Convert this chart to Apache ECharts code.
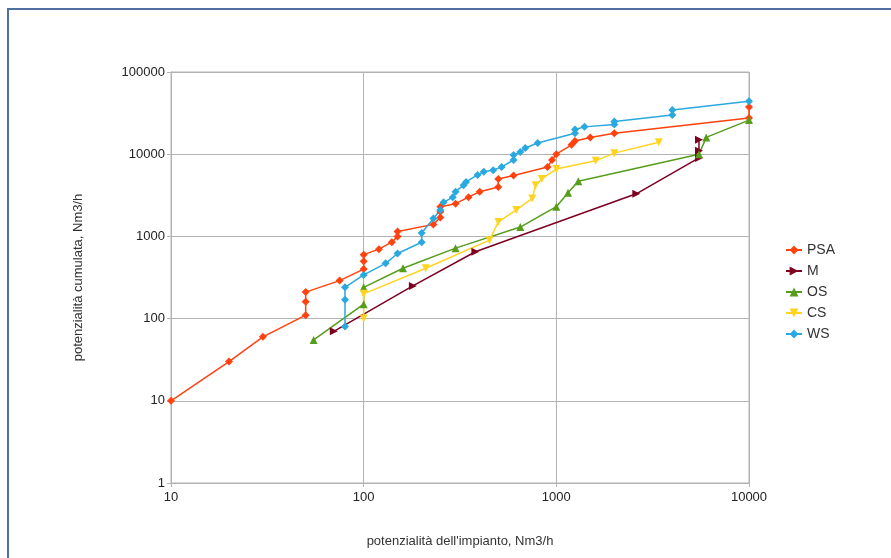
<!DOCTYPE html>
<html>
<head>
<meta charset="utf-8">
<script src="https://cdn.jsdelivr.net/npm/echarts@6/dist/echarts.min.js"></script>
<style>
  body{margin:0;background:#fff;}
  #frame{position:absolute;left:7px;top:8px;width:900px;height:600px;border:2px solid #4f6fa3;box-sizing:border-box;}
  #chart{position:absolute;left:0;top:0;width:891px;height:558px;}
</style>
</head>
<body>
<div id="frame"></div>
<div id="chart"></div>
<script>
  // valori: [potenzialità impianto, potenzialità cumulata]
  var psa=[[10,10],[20,30],[30,60],[50,110],[50,160],[50,210],[75,290],[100,400],[100,500],[100,600],
    [120,700],[140,850],[150,1000],[150,1150],[230,1400],[250,1700],[250,2000],[250,2300],[300,2500],
    [350,3000],[400,3500],[500,4000],[500,5000],[600,5500],[900,7000],[950,8500],[1000,10000],
    [1200,13000],[1250,14500],[1500,16000],[2000,18000],[10000,27500],[10000,37500]];
  var m=[[70,70],[180,250],[380,650],[2600,3300],[5500,9000],[5500,11000],[5500,15000]];
  var os=[[55,55],[100,150],[100,240],[160,410],[300,720],[650,1300],[1000,2300],[1150,3400],
    [1300,4700],[5500,10000],[6000,16000],[10000,26000]];
  var cs=[[100,100],[100,200],[210,410],[450,900],[500,1500],[620,2100],[750,2900],[780,4200],
    [840,5000],[1000,6600],[1600,8300],[2000,10300],[3400,14000]];
  var ws=[[80,80],[80,170],[80,240],[100,340],[130,470],[150,620],[200,850],[200,1100],[230,1650],
    [250,2100],[260,2600],[290,3000],[300,3500],[330,4200],[340,4600],[390,5600],[420,6100],
    [470,6400],[520,7000],[600,8500],[600,9800],[650,10600],[690,11900],[800,13700],[1250,18000],
    [1250,20000],[1400,21500],[2000,23000],[2000,25000],[4000,30000],[4000,34500],[10000,44000]];

  var names=['PSA','M','OS','CS','WS'];
  var dati=[psa,m,os,cs,ws];
  var colori=['#ff420e','#7e0021','#579d1c','#ffd320','#2aa8e0'];
  var simboli=['diamond','triangle','triangle','triangle','diamond'];
  var rotazioni=[0,-90,0,180,0];

  var chart=echarts.init(document.getElementById('chart'));
  var series=[];
  for(var i=0;i<names.length;i++){
    series.push({
      name:names[i],
      type:'line',
      data:dati[i],
      symbol:simboli[i],
      symbolSize:8,
      symbolRotate:rotazioni[i],
      showAllSymbol:true,
      lineStyle:{width:1.5,color:colori[i]},
      itemStyle:{color:colori[i]},
      emphasis:{disabled:true}
    });
  }
  function fmt(v){return String(Math.round(v));}
  var option={
    animation:false,
    textStyle:{fontFamily:'Liberation Sans'},
    grid:{left:171,right:142,top:72,bottom:75},
    legend:{
      orient:'vertical',left:780,top:238,itemGap:7,itemWidth:16,itemHeight:11,
      textStyle:{fontSize:14,color:'#333',fontFamily:'Liberation Sans'},
      data:names
    },
    xAxis:{
      type:'log',logBase:10,min:10,max:10000,
      name:"potenzialità dell'impianto, Nm3/h",
      nameLocation:'middle',nameGap:52,
      nameTextStyle:{fontSize:13,color:'#333'},
      axisLine:{show:true,lineStyle:{color:'#b3b3b3'}},
      axisTick:{show:true,length:4,lineStyle:{color:'#b3b3b3'}},
      axisLabel:{formatter:fmt,fontSize:13,color:'#222',margin:8},
      splitLine:{show:true,lineStyle:{color:'#b3b3b3'}},
      minorTick:{show:false}
    },
    yAxis:{
      type:'log',logBase:10,min:1,max:100000,
      name:'potenzialità cumulata, Nm3/h',
      nameLocation:'middle',nameGap:86,
      nameTextStyle:{fontSize:13,color:'#333'},
      axisLine:{show:true,lineStyle:{color:'#b3b3b3'}},
      axisTick:{show:true,length:4,lineStyle:{color:'#b3b3b3'}},
      axisLabel:{formatter:fmt,fontSize:13,color:'#222',margin:6},
      splitLine:{show:true,lineStyle:{color:'#b3b3b3'}}
    },
    graphic:[{
      type:'rect',shape:{x:171,y:72,width:578,height:411},
      style:{fill:'none',stroke:'#b3b3b3',lineWidth:1},silent:true
    }],
    series:series
  };
  chart.setOption(option);
</script>
</body>
</html>
